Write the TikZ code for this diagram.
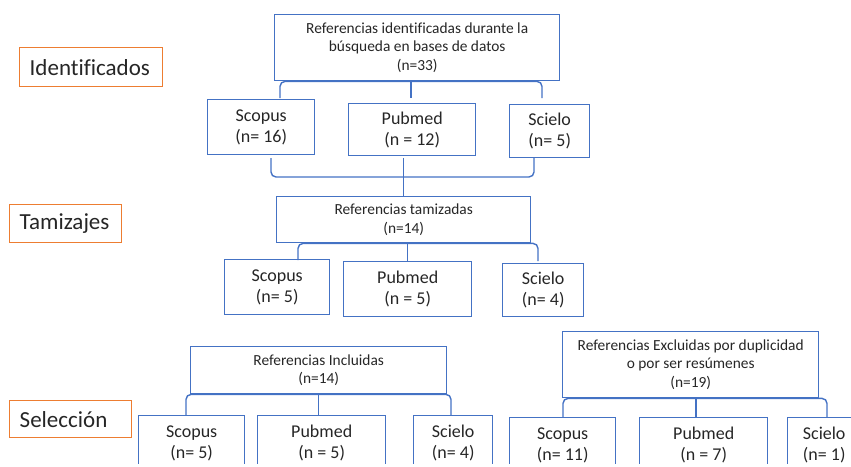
\documentclass[tikz,border=0pt]{standalone}
\usepackage{fontspec}
\setmainfont[Ligatures=NoCommon]{Carlito}
\definecolor{boxblue}{HTML}{4472C4}
\definecolor{lorange}{HTML}{ED7D31}
\definecolor{txt}{HTML}{262626}
\tikzset{
  box/.style={draw=boxblue, line width=1.4pt, align=center, text=txt, inner sep=0pt, anchor=north west,
    font=\fontsize{15.4}{18.5}\selectfont},
  kid/.style={box, font=\fontsize{18}{21}\selectfont},
  lab/.style={draw=lorange, line width=1.4pt, text=txt, align=left, inner xsep=10pt, inner ysep=0pt,
    anchor=north west, font=\fontsize{23}{27}\selectfont},
  conn/.style={draw=boxblue, line width=1.4pt, rounded corners=5pt},
}
\begin{document}
\begin{tikzpicture}[x=1pt,y=-1pt]
\useasboundingbox (0,0) rectangle (851,466);
\begin{scope}
\clip (0,0) rectangle (851,463.5);
% stage labels
\node[lab, text width=123pt, minimum height=39pt] (lid) at (19,47) {Identificados};
\node[lab, text width=92pt, minimum height=38pt] (ltam) at (9,204) {Tamizajes};
\node[lab, text width=102pt, minimum height=37pt] (lsel) at (9,400) {Selección};
% level 1
\node[box, minimum width=285pt, minimum height=66pt] (top) at (274,14)
  {Referencias identificadas durante la\\búsqueda en bases de datos\\(n=33)};
\node[kid, minimum width=107pt, minimum height=55pt] (s1) at (207,99) {Scopus\\(n= 16)};
\node[kid, minimum width=127pt, minimum height=52pt] (p1) at (348,103) {Pubmed\\(n = 12)};
\node[kid, minimum width=80pt, minimum height=53pt] (e1) at (509,104) {Scielo\\(n= 5)};
% level 2
\node[box, minimum width=254pt, minimum height=46pt] (tam) at (276,196)
  {Referencias tamizadas\\(n=14)};
\node[kid, minimum width=105pt, minimum height=55pt] (s2) at (224,259) {Scopus\\(n= 5)};
\node[kid, minimum width=128pt, minimum height=55pt] (p2) at (343,261) {Pubmed\\(n = 5)};
\node[kid, minimum width=81pt, minimum height=53pt] (e2) at (502,263) {Scielo\\(n= 4)};
% level 3
\node[box, minimum width=256pt, minimum height=47pt] (inc) at (190,346)
  {Referencias Incluidas\\(n=14)};
\node[box, minimum width=256pt, minimum height=66pt] (exc) at (562,331)
  {Referencias Excluidas por duplicidad\\o por ser resúmenes\\(n=19)};
\node[kid, minimum width=106pt, minimum height=55pt] (s3) at (138,415) {Scopus\\(n= 5)};
\node[kid, minimum width=128pt, minimum height=55pt] (p3) at (257,415) {Pubmed\\(n = 5)};
\node[kid, minimum width=79pt, minimum height=55pt] (e3) at (413,415) {Scielo\\(n= 4)};
\node[kid, minimum width=106pt, minimum height=55pt] (s4) at (509,417) {Scopus\\(n= 11)};
\node[kid, minimum width=128pt, minimum height=55pt] (p4) at (639,417) {Pubmed\\(n = 7)};
\node[kid, minimum width=73pt, minimum height=55pt] (e4) at (787,417) {Scielo\\(n= 1)};
% connector end points
\coordinate (a1) at (280,98);
\coordinate (a2) at (411,98);
\coordinate (a3) at (542,98);
\coordinate (b1) at (271,158);
\coordinate (bb) at (403,177);
\coordinate (b3) at (534,158);
\coordinate (c1) at (298,260);
\coordinate (c3) at (538,261);
\coordinate (d1) at (186,415);
\coordinate (d3) at (451,415);
\coordinate (f1) at (563,417);
\coordinate (f2) at (696,417);
\coordinate (f3) at (827,417);
% connectors
\draw[conn] (a1) |- (top.south) -| (a3);
\draw[conn] (top.south -| a2) -- (a2);
\draw[conn] (b1) |- (bb) -| (b3);
\draw[conn] (tam.north |- b1) -- (tam.north);
\draw[conn] (c1) |- (tam.south) -| (c3);
\draw[conn] (tam.south -| p2.north) -- (p2.north);
\draw[conn] (d1) |- (inc.south) -| (d3);
\draw[conn] (inc.south) -- (inc.south |- d1);
\draw[conn] (f1) |- (exc.south) -| (f3);
\draw[conn] (exc.south -| f2) -- (f2);
\end{scope}
\end{tikzpicture}
\end{document}
